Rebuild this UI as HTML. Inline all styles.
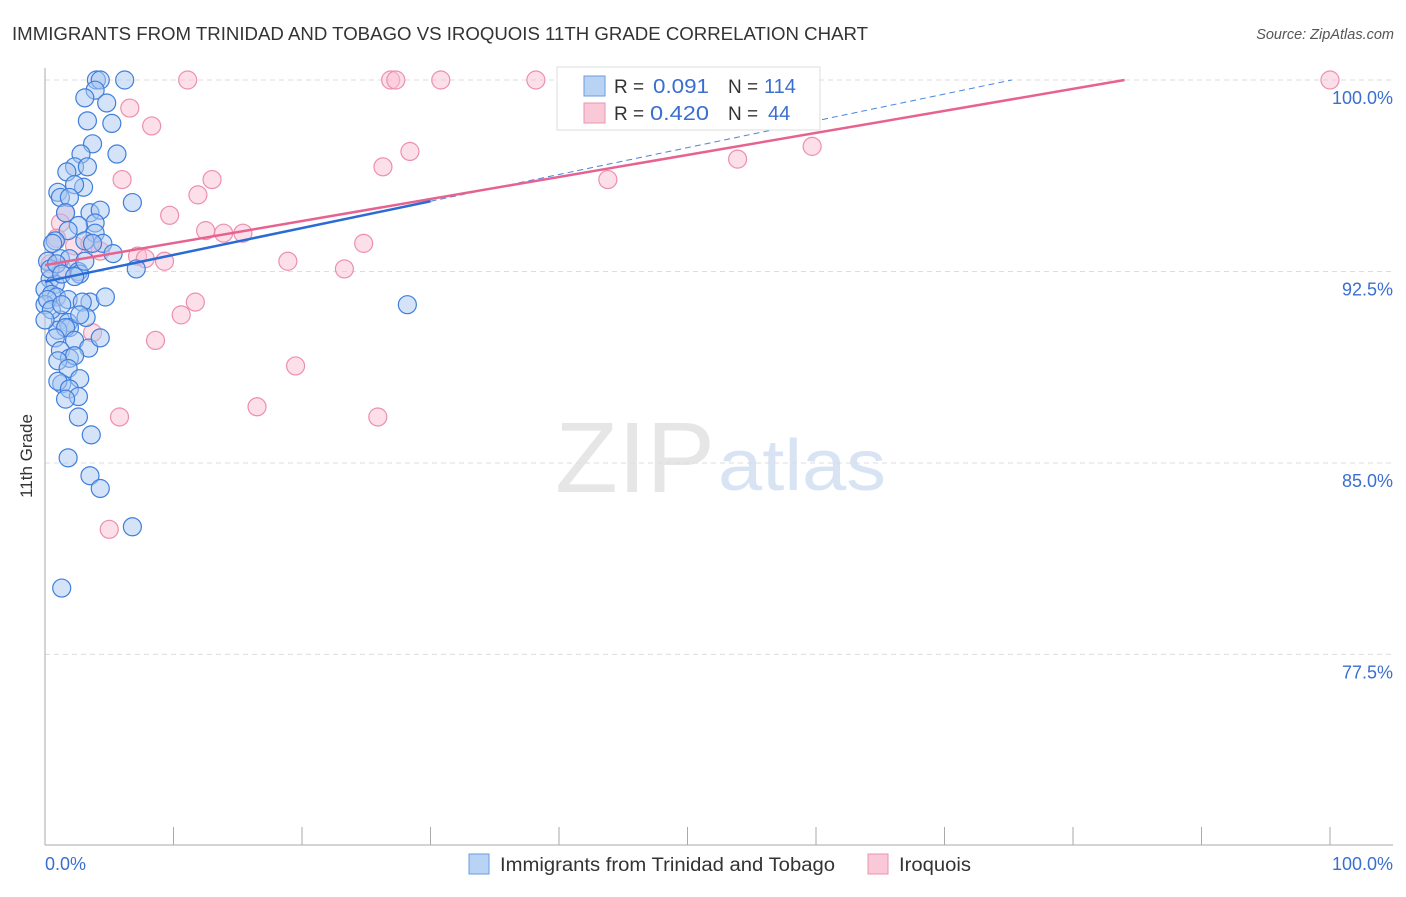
<!DOCTYPE html>
<html><head><meta charset="utf-8"><style>
body{margin:0;background:#fff;font-family:"Liberation Sans",sans-serif}
svg text{font-family:"Liberation Sans",sans-serif}
</style></head><body>
<svg width="1406" height="892" xmlns="http://www.w3.org/2000/svg">
<text x="12" y="40" font-size="18" fill="#333" textLength="856" lengthAdjust="spacingAndGlyphs">IMMIGRANTS FROM TRINIDAD AND TOBAGO VS IROQUOIS 11TH GRADE CORRELATION CHART</text>
<text x="1394" y="39" font-size="14.5" fill="#555" font-style="italic" text-anchor="end">Source: ZipAtlas.com</text>
<text x="32" y="456" font-size="17" fill="#333" text-anchor="middle" transform="rotate(-90 32 456)">11th Grade</text>
<text x="555" y="492" font-size="100" fill="#e6e6e6" textLength="160" lengthAdjust="spacingAndGlyphs" font-family="Liberation Serif">ZIP</text>
<text x="718" y="490" font-size="72" fill="#d8e4f4" textLength="168" lengthAdjust="spacingAndGlyphs">atlas</text>
<g id="grid"></g>
<g id="axes"></g>
<g id="pts"></g>
<g id="lines"></g>
<g>
<rect x="557" y="67" width="263" height="63" fill="#fff" stroke="#ddd"/>
<rect x="584" y="76" width="21" height="20" fill="#b9d3f5" stroke="#6b9be0"/>
<rect x="584" y="103" width="21" height="20" fill="#f9c9d8" stroke="#ec93b0"/>
<text x="614" y="93" font-size="19" fill="#333">R =</text>
<text x="653" y="93" font-size="20" fill="#3a6fd0" textLength="56" lengthAdjust="spacingAndGlyphs">0.091</text>
<text x="728" y="93" font-size="19" fill="#333">N =</text>
<text x="764" y="93" font-size="20" fill="#3a6fd0">114</text>
<text x="614" y="120" font-size="19" fill="#333">R =</text>
<text x="650" y="120" font-size="20" fill="#3a6fd0" textLength="59" lengthAdjust="spacingAndGlyphs">0.420</text>
<text x="728" y="120" font-size="19" fill="#333">N =</text>
<text x="768" y="120" font-size="20" fill="#3a6fd0">44</text>
</g>
<g>
<rect x="469" y="854" width="20" height="20" fill="#b9d3f5" stroke="#6b9be0"/>
<text x="500" y="871" font-size="19" fill="#333" textLength="335" lengthAdjust="spacingAndGlyphs">Immigrants from Trinidad and Tobago</text>
<rect x="868" y="854" width="20" height="20" fill="#f9c9d8" stroke="#ec93b0"/>
<text x="899" y="871" font-size="19" fill="#333" textLength="72" lengthAdjust="spacingAndGlyphs">Iroquois</text>
</g>
<text x="45" y="870" font-size="18" fill="#3a6fd0">0.0%</text>
<text x="1393" y="870" font-size="18" fill="#3a6fd0" text-anchor="end">100.0%</text>
</svg>
<script>
const yTicks=[100,92.5,85,77.5];
const xTicks=[0,10,20,30,40,50,60,70,80,90,100];
const blueX=[4.0,4.3,6.2,3.9,3.1,4.8,3.3,5.2,3.7,5.6,2.8,2.3,3.3,1.7,3.0,2.3,1.0,1.2,1.9,6.8,3.5,4.3,1.6,3.9,2.6,3.9,1.8,0.8,3.1,4.5,5.3,0.6,1.2,1.9,0.2,2.6,2.7,0.4,0.8,0,7.1,0.5,0.9,1.8,3.5,4.7,0,2.9,1.2,1.8,1.9,3.2,1.0,1.6,0.8,2.3,3.4,4.3,1.2,1.9,2.3,1.0,1.8,2.7,1.3,1.0,1.9,2.6,1.6,2.6,3.6,1.8,3.5,4.3,6.8,1.3,28.2,0.4,0.2,0.5,1.3,0,2.7,0.9,1.3,2.3,3.7,3.1];
const blueY=[100,100,100,99.6,99.3,99.1,98.4,98.3,97.5,97.1,97.1,96.6,96.6,96.4,95.8,95.9,95.6,95.4,95.4,95.2,94.8,94.9,94.8,94.4,94.3,94.0,94.1,93.7,93.7,93.6,93.2,93.6,93.0,93.0,92.9,92.5,92.4,92.2,92.0,91.8,92.6,91.6,91.5,91.4,91.3,91.5,91.2,91.3,90.6,90.5,90.3,90.7,90.2,90.3,89.9,89.8,89.5,89.9,89.4,89.1,89.2,89.0,88.7,88.3,88.1,88.2,87.9,87.6,87.5,86.8,86.1,85.2,84.5,84.0,82.5,80.1,91.2,92.6,91.4,91.0,91.2,90.6,90.8,92.8,92.4,92.3,93.6,92.9];
const pinkX=[11.1,26.9,27.3,30.8,38.2,100,6.6,8.3,6.0,13.0,11.9,9.7,12.5,13.9,15.4,1.6,1.2,0.9,2.3,3.5,4.3,7.2,7.8,9.3,18.9,23.3,24.8,26.3,28.4,43.8,53.9,59.7,11.7,10.6,8.6,3.7,19.5,16.5,25.9,5.8,5.0,0.4,1.3];
const pinkY=[100,100,100,100,100,100,98.9,98.2,96.1,96.1,95.5,94.7,94.1,94.0,94.0,94.8,94.4,93.8,93.5,93.6,93.3,93.1,93.0,92.9,92.9,92.6,93.6,96.6,97.2,96.1,96.9,97.4,91.3,90.8,89.8,90.1,88.8,87.2,86.8,86.8,82.4,92.8,92.6];
const blueTrend=[92.1,0.105];
const pinkTrend=[92.75,0.0863];
const NS='http://www.w3.org/2000/svg';
const sx=v=>45+v*12.85;
const sy=v=>80+(100-v)*25.53;
function mk(t,a,p){const e=document.createElementNS(NS,t);for(const k in a)e.setAttribute(k,a[k]);p.appendChild(e);return e;}
const grid=document.getElementById('grid');
yTicks.forEach(t=>{
 const l=mk('line',{x1:45,x2:1393,y1:sy(t),y2:sy(t),stroke:'#ddd','stroke-dasharray':'5,4'},grid);
 
 
 const tx=mk('text',{x:1393,y:sy(t)+24,'font-size':18,fill:'#3a6fd0','text-anchor':'end'},grid);
 tx.textContent=t.toFixed(1)+'%';
 
 
});
const axes=document.getElementById('axes');
const ya=mk('line',{x1:45,x2:45,y1:68,y2:845,stroke:'#aaa'},axes);


const xa=mk('line',{x1:45,x2:1393,y1:845,y2:845,stroke:'#aaa'},axes);


xTicks.forEach(t=>{
 const l=mk('line',{x1:sx(t),x2:sx(t),y1:827,y2:845,stroke:'#aaa'},axes);
 
 
});
const pts=document.getElementById('pts');
function dots(X,Y,fill,stroke,name){X.forEach((x,i)=>{
 const c=mk('circle',{cx:sx(x),cy:sy(Y[i]),r:9,fill:fill,'fill-opacity':0.5,stroke:stroke,'stroke-width':1.2},pts);
 
 
});}
dots(pinkX,pinkY,'#f9bfd2','#ec8fae','pink-point');
dots(blueX,blueY,'#a9c8f2','#3f7fdc','blue-point');
const lines=document.getElementById('lines');
const bEnd=(100-blueTrend[0])/blueTrend[1];
const bd=mk('line',{x1:sx(30),y1:sy(blueTrend[0]+30*blueTrend[1]),x2:sx(bEnd),y2:sy(100),stroke:'#4a85dc','stroke-width':1,'stroke-dasharray':'6,4'},lines);


const pEnd=(100-pinkTrend[0])/pinkTrend[1];
const pl=mk('line',{x1:sx(0),y1:sy(pinkTrend[0]),x2:sx(pEnd),y2:sy(100),stroke:'#e8628f','stroke-width':2.5},lines);


const bl=mk('line',{x1:sx(0),y1:sy(blueTrend[0]),x2:sx(30),y2:sy(blueTrend[0]+30*blueTrend[1]),stroke:'#2a6bd6','stroke-width':2.5},lines);


</script>
</body></html>
